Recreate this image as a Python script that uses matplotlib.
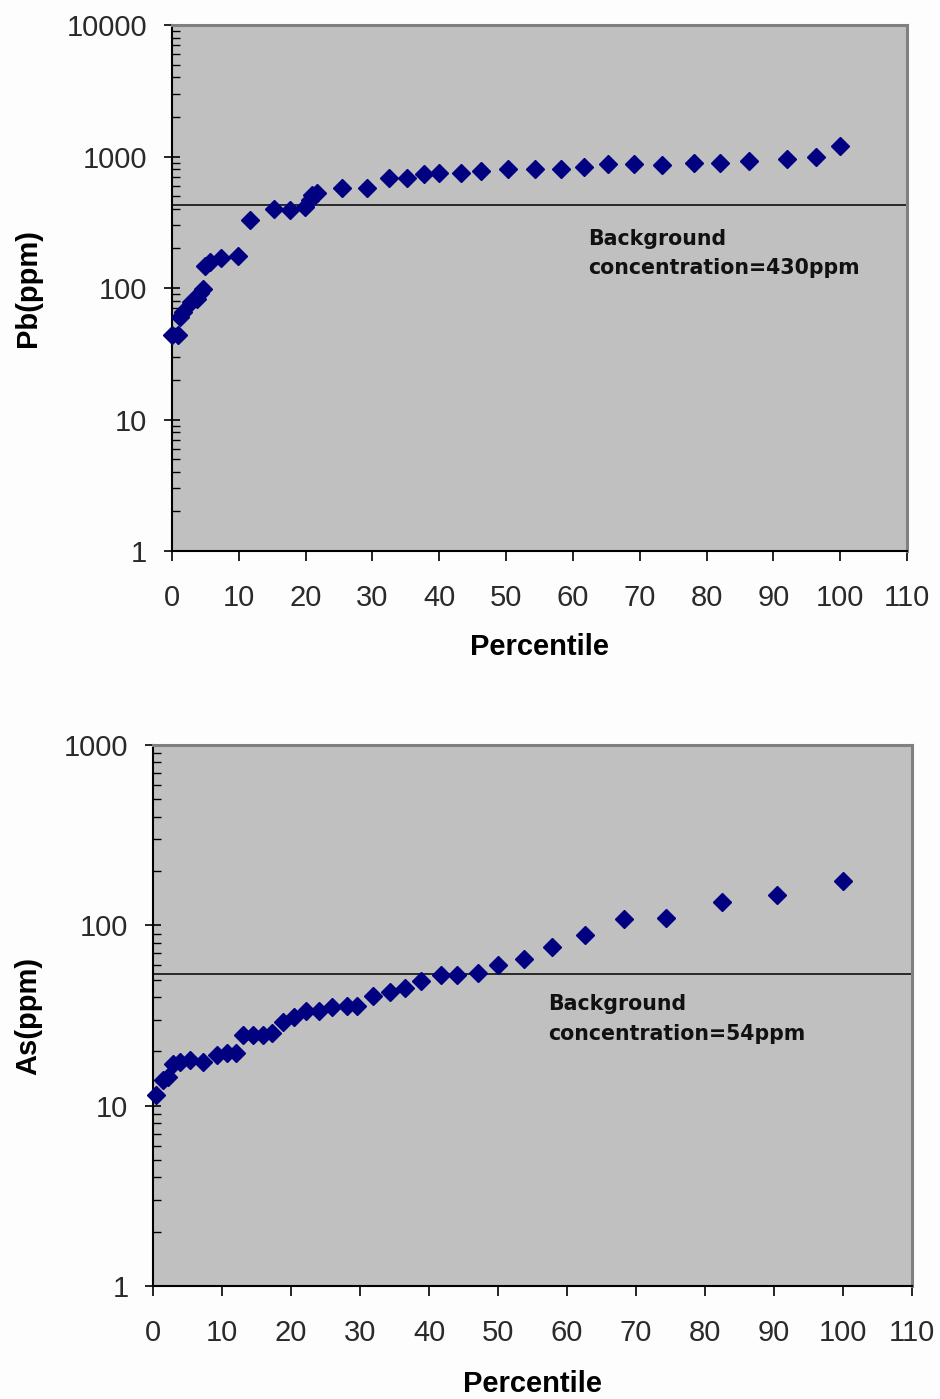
import matplotlib
matplotlib.use("Agg")
import matplotlib.pyplot as plt
from matplotlib.ticker import FixedLocator, FuncFormatter, LogLocator, NullFormatter

# Pb percentile data (top panel)
pb_pct = [0.0, 0.9, 1.2, 1.7, 2.9, 3.7, 4.2, 4.7, 4.9, 5.7, 7.4, 9.8, 11.7, 15.2,
          17.7, 19.9, 20.7, 20.9, 21.7, 25.5, 29.2, 32.4, 35.1, 37.7, 39.9, 43.2,
          46.3, 50.3, 54.3, 58.2, 61.6, 65.3, 69.1, 73.3, 78.1, 82.0, 86.3, 92.0,
          96.3, 100.0]
pb_ppm = [44, 44, 60, 66, 79, 83, 91, 99, 147, 159, 170, 175, 329, 397,
          392, 415, 467, 510, 531, 579, 579, 683, 683, 732, 753, 753,
          780, 803, 803, 803, 836, 871, 871, 861, 897, 888, 925, 951,
          986, 1202]
pb_background = 430

# As percentile data (bottom panel)
as_pct = [0.5, 1.4, 2.2, 2.9, 3.9, 5.4, 7.3, 9.2, 10.7, 12.0, 13.1, 14.5, 15.9,
          17.3, 18.9, 20.5, 22.1, 24.1, 26.0, 28.1, 29.6, 31.9, 34.3, 36.5, 38.8,
          41.8, 44.0, 47.1, 50.0, 53.7, 57.8, 62.6, 68.3, 74.3, 82.4, 90.4, 100.0]
as_ppm = [11.4, 13.9, 14.5, 17.0, 17.5, 17.8, 17.5, 19.1, 19.5, 19.5, 24.7, 24.7, 24.7,
          25.4, 29.2, 31.2, 33.5, 33.3, 35.1, 35.7, 35.6, 40.6, 42.6, 44.8, 49.3,
          53.1, 53.1, 54.2, 60.3, 64.9, 76.2, 88.5, 108, 110, 134, 147.5, 175]
as_background = 54

x_ticks = list(range(0, 111, 10))

TICK_FONT = "Liberation Sans"
GRAY_BG = "#C0C0C0"
NAVY = "#000080"


def style_axes(ax, ymax, ylabel, label_x):
    ax.set_facecolor(GRAY_BG)
    ax.set_yscale("log")
    ax.set_xlim(0, 110)
    ax.set_ylim(1, ymax)
    ax.xaxis.set_major_locator(FixedLocator(x_ticks))
    ax.yaxis.set_major_locator(LogLocator(base=10))
    ax.yaxis.set_minor_locator(LogLocator(base=10, subs=range(2, 10)))
    ax.yaxis.set_major_formatter(FuncFormatter(lambda v, p: f"{v:g}"))
    ax.yaxis.set_minor_formatter(NullFormatter())

    for side in ("left", "bottom"):
        ax.spines[side].set_color("black")
        ax.spines[side].set_linewidth(1.5)
    for side in ("top", "right"):
        ax.spines[side].set_color("#808080")
        ax.spines[side].set_linewidth(2.2)

    ax.tick_params(axis="x", direction="out", length=7, width=1.2, pad=16.5,
                   labelsize=21, colors="black")
    ax.tick_params(axis="y", which="major", direction="inout", length=11.5,
                   width=1.2, pad=12, labelsize=21)
    ax.tick_params(axis="y", which="minor", direction="in", length=5.5, width=1.0)
    for lbl in ax.get_xticklabels() + ax.get_yticklabels():
        lbl.set_fontfamily(TICK_FONT)
        lbl.set_color("#2a2a2a")

    ax.set_xlabel("Percentile", fontsize=21, fontweight="bold", family=TICK_FONT)
    ax.set_ylabel(ylabel, fontsize=21, fontweight="bold", family=TICK_FONT)
    ax.xaxis.set_label_coords(0.5, -0.155)
    ax.yaxis.set_label_coords(label_x, 0.5)


fig = plt.figure(figsize=(9.4, 13.99), dpi=100, facecolor="#FDFDFD")

# top panel: Pb
ax1 = fig.add_axes([0.183, 0.6061, 0.782, 0.376])
style_axes(ax1, 10000, "Pb(ppm)", -0.177)
ax1.axhline(pb_background, color="black", linewidth=1.1)
ax1.plot(pb_pct, pb_ppm, linestyle="none", marker="D", markersize=9,
         color=NAVY, clip_on=False, zorder=5)
ax1.text(62.3, 283, "Background\nconcentration=430ppm", fontsize=14.8,
         fontweight="bold", family="DejaVu Sans", va="top", ha="left",
         linespacing=1.6, color="#111111")

# bottom panel: As
ax2 = fig.add_axes([0.1628, 0.0808, 0.8074, 0.3867])
style_axes(ax2, 1000, "As(ppm)", -0.146)
ax2.axhline(as_background, color="black", linewidth=1.1)
ax2.plot(as_pct, as_ppm, linestyle="none", marker="D", markersize=9,
         color=NAVY, clip_on=False, zorder=5)
ax2.text(57.2, 41.5, "Background\nconcentration=54ppm", fontsize=14.8,
         fontweight="bold", family="DejaVu Sans", va="top", ha="left",
         linespacing=1.6, color="#111111")

fig.savefig("out.png", dpi=100, facecolor=fig.get_facecolor())
